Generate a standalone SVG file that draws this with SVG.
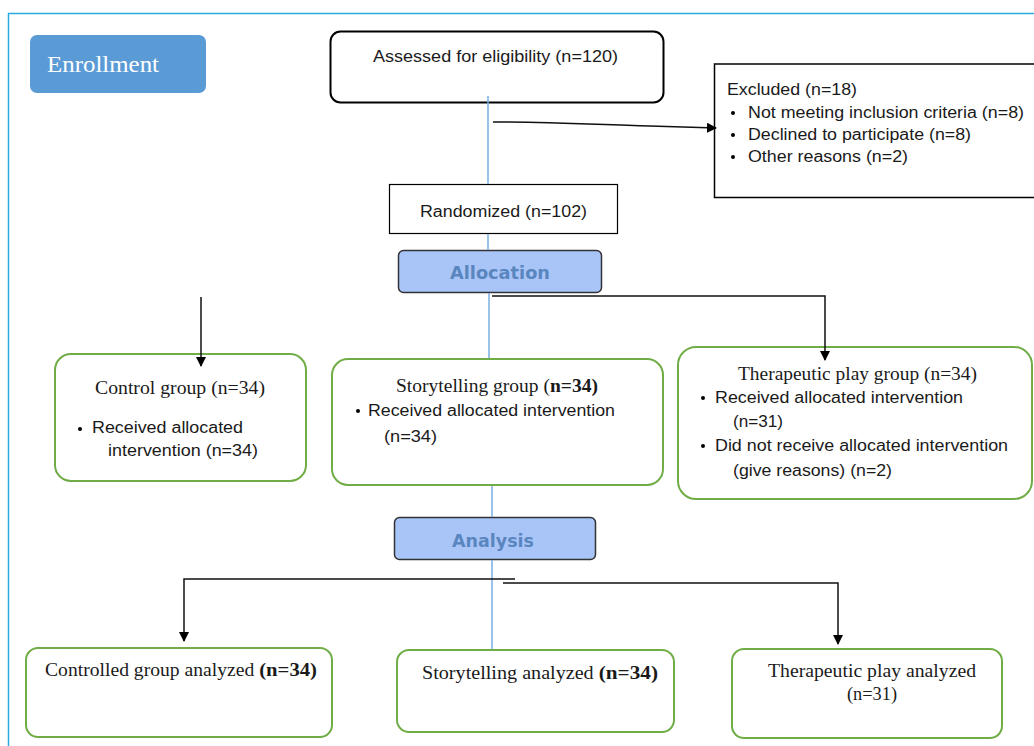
<svg xmlns="http://www.w3.org/2000/svg" width="1034" height="746" viewBox="0 0 1034 746">
<defs>
<marker id="arr" markerWidth="10" markerHeight="10" refX="9" refY="5" orient="auto" markerUnits="userSpaceOnUse">
<path d="M0,0 L10,5 L0,10 Z" fill="#000"/>
</marker>
<style>
.sans{font-family:"Liberation Sans",Arial,sans-serif;font-size:16px;fill:#1a1a1a}
.serif{font-family:"Liberation Serif","Times New Roman",serif;font-size:18.5px;fill:#1a1a1a}
.green{fill:#fff;stroke:#70ad47;stroke-width:2}
.phase{fill:#a9c5f8;stroke:#333;stroke-width:1.5}
.phaset{font-family:"DejaVu Sans",sans-serif;font-size:17px;font-weight:bold;fill:#5a86bf;text-anchor:middle}
.conn{fill:none;stroke:#111;stroke-width:1.5}
.blue{fill:none;stroke:#7aaee0;stroke-width:1.5}
</style>
</defs>
<rect width="1034" height="746" fill="#fff"/>
<path d="M8.5,746 V13.5 H1034" fill="none" stroke="#29abe2" stroke-width="1.5"/>

<g id="enrollment">
<rect x="30" y="35" width="176" height="58" rx="7" fill="#5b9bd5"/>
<text x="47" y="72" font-family="Liberation Serif,serif" font-size="23" fill="#fff" textLength="112" lengthAdjust="spacingAndGlyphs">Enrollment</text>
</g>

<g id="assessed">
<rect x="330.5" y="31.5" width="333" height="71" rx="10" fill="#fff" stroke="#000" stroke-width="2"/>
<text class="sans" x="373" y="62" textLength="245" lengthAdjust="spacingAndGlyphs">Assessed for eligibility (n=120)</text>
</g>

<g id="excluded">
<path d="M1034,64 H714.5 V197.5 H1034" fill="#fff" stroke="#000" stroke-width="1.5"/>
<text class="sans" x="727" y="95" textLength="130" lengthAdjust="spacingAndGlyphs">Excluded (n=18)</text>
<circle cx="733" cy="113" r="2" fill="#000"/>
<text class="sans" x="748" y="118" textLength="276" lengthAdjust="spacingAndGlyphs">Not meeting inclusion criteria (n=8)</text>
<circle cx="733" cy="135" r="2" fill="#000"/>
<text class="sans" x="748" y="140" textLength="223" lengthAdjust="spacingAndGlyphs">Declined to participate (n=8)</text>
<circle cx="733" cy="157" r="2" fill="#000"/>
<text class="sans" x="748" y="162" textLength="160" lengthAdjust="spacingAndGlyphs">Other reasons (n=2)</text>
</g>

<g id="randomized">
<rect x="389.5" y="184.5" width="228" height="49" fill="#fff" stroke="#000" stroke-width="1.2"/>
<text class="sans" x="420" y="217" textLength="167" lengthAdjust="spacingAndGlyphs">Randomized (n=102)</text>
</g>

<g id="allocation">
<rect class="phase" x="398.5" y="250.5" width="203" height="42" rx="5"/>
<text class="phaset" x="500" y="279" textLength="100" lengthAdjust="spacingAndGlyphs">Allocation</text>
</g>

<g id="control">
<rect class="green" x="55" y="354" width="251" height="127" rx="16"/>
<text class="serif" x="95" y="394" textLength="170" lengthAdjust="spacingAndGlyphs">Control group (n=34)</text>
<circle cx="80" cy="429" r="2" fill="#000"/>
<text class="sans" x="92" y="433" textLength="151" lengthAdjust="spacingAndGlyphs">Received allocated</text>
<text class="sans" x="108" y="456" textLength="150" lengthAdjust="spacingAndGlyphs">intervention (n=34)</text>
</g>

<g id="storytelling">
<rect class="green" x="332" y="359" width="331" height="126" rx="16"/>
<text class="serif" x="396" y="392" textLength="202" lengthAdjust="spacingAndGlyphs">Storytelling group (<tspan font-weight="bold">n=34)</tspan></text>
<circle cx="358" cy="411" r="2" fill="#000"/>
<text class="sans" x="368" y="416" textLength="247" lengthAdjust="spacingAndGlyphs">Received allocated intervention</text>
<text class="sans" x="384" y="442" textLength="53" lengthAdjust="spacingAndGlyphs">(n=34)</text>
</g>

<g id="therapeutic">
<rect class="green" x="678" y="347" width="354" height="152" rx="18"/>
<text class="serif" x="738" y="380" textLength="239" lengthAdjust="spacingAndGlyphs">Therapeutic play group (n=34)</text>
<circle cx="703" cy="398" r="2" fill="#000"/>
<text class="sans" x="715" y="403" textLength="248" lengthAdjust="spacingAndGlyphs">Received allocated intervention</text>
<text class="sans" x="733" y="427" textLength="50" lengthAdjust="spacingAndGlyphs">(n=31)</text>
<circle cx="703" cy="446" r="2" fill="#000"/>
<text class="sans" x="715" y="451" textLength="293" lengthAdjust="spacingAndGlyphs">Did not receive allocated intervention</text>
<text class="sans" x="733" y="476" textLength="159" lengthAdjust="spacingAndGlyphs">(give reasons) (n=2)</text>
</g>

<g id="analysis">
<rect class="phase" x="394.5" y="517.5" width="201" height="42" rx="5"/>
<text class="phaset" x="493" y="547" textLength="82" lengthAdjust="spacingAndGlyphs">Analysis</text>
</g>

<g id="controlled-analyzed">
<rect class="green" x="26" y="648" width="306" height="89" rx="12"/>
<text class="serif" x="45" y="676" textLength="272" lengthAdjust="spacingAndGlyphs">Controlled group analyzed <tspan font-weight="bold" font-size="19.5">(n=34)</tspan></text>
</g>

<g id="storytelling-analyzed">
<rect class="green" x="397" y="650" width="277" height="82" rx="12"/>
<text class="serif" x="422" y="679" textLength="236" lengthAdjust="spacingAndGlyphs">Storytelling analyzed <tspan font-weight="bold" font-size="19.5">(n=34)</tspan></text>
</g>

<g id="therapeutic-analyzed">
<rect class="green" x="732" y="649" width="270" height="89" rx="12"/>
<text class="serif" x="768" y="677" textLength="208" lengthAdjust="spacingAndGlyphs">Therapeutic play analyzed</text>
<text class="serif" x="847" y="700" textLength="50" lengthAdjust="spacingAndGlyphs">(n=31)</text>
</g>

<g id="connectors">
<line class="blue" x1="488" y1="96" x2="488" y2="184"/>
<line class="blue" x1="488" y1="234" x2="488" y2="250"/>
<line class="blue" x1="489" y1="293" x2="489" y2="358"/>
<line class="blue" x1="492" y1="486" x2="492" y2="517"/>
<line class="blue" x1="492" y1="560" x2="492" y2="649"/>
<path class="conn" d="M493,122 C560,122 600,125 650,126 L716,128" marker-end="url(#arr)"/>
<path class="conn" d="M492,296 H825 V360" marker-end="url(#arr)"/>
<path class="conn" d="M201,297 V366" marker-end="url(#arr)"/>
<path class="conn" d="M515,579 H184 V641" marker-end="url(#arr)"/>
<path class="conn" d="M503,583 H838 V644" marker-end="url(#arr)"/>
</g>
</svg>
